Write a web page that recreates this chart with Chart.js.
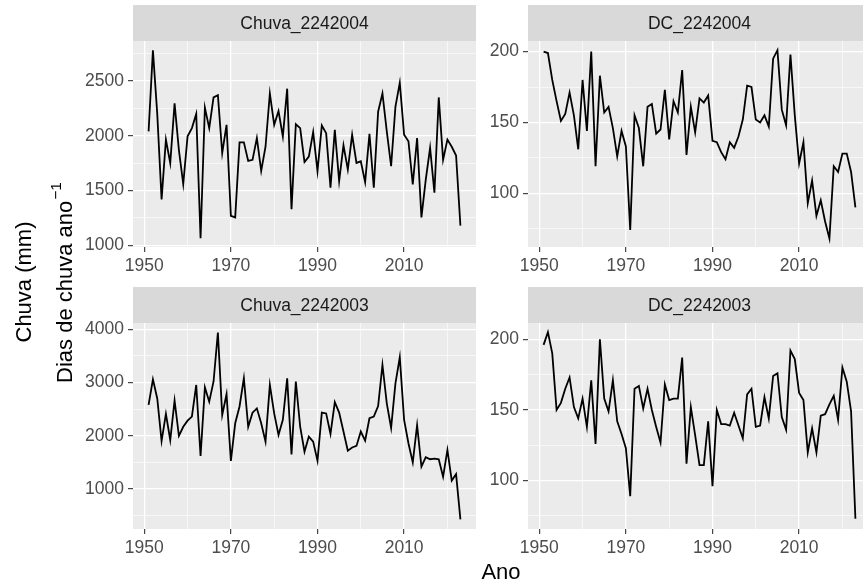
<!DOCTYPE html>
<html>
<head>
<meta charset="utf-8">
<title>Chuva e dias de chuva</title>
<style>
  html, body { margin: 0; padding: 0; background: #fff; overflow: hidden; }
  #wrap { position: relative; width: 863px; height: 588px; overflow: hidden; }
  #wrap canvas { position: absolute; left: 0; top: 0; }
</style>
</head>
<body>
<div id="wrap">
  <canvas id="c1" width="880" height="588"></canvas>
  <canvas id="c2" width="880" height="588"></canvas>
  <canvas id="c3" width="880" height="588"></canvas>
  <canvas id="c4" width="880" height="588"></canvas>
</div>
<script src="https://cdn.jsdelivr.net/npm/chart.js@4.4.0/dist/chart.umd.min.js"></script>
<script>
// anos 1951-2023
const anos = [1951, 1952, 1953, 1954, 1955, 1956, 1957, 1958, 1959, 1960,
  1961, 1962, 1963, 1964, 1965, 1966, 1967, 1968, 1969, 1970,
  1971, 1972, 1973, 1974, 1975, 1976, 1977, 1978, 1979, 1980,
  1981, 1982, 1983, 1984, 1985, 1986, 1987, 1988, 1989, 1990,
  1991, 1992, 1993, 1994, 1995, 1996, 1997, 1998, 1999, 2000,
  2001, 2002, 2003, 2004, 2005, 2006, 2007, 2008, 2009, 2010,
  2011, 2012, 2013, 2014, 2015, 2016, 2017, 2018, 2019, 2020,
  2021, 2022, 2023];

const chuva2242004 = [2040, 2780, 2200, 1420, 1965, 1750, 2296, 1870, 1560, 1995,
  2070, 2200, 1064, 2257, 2070, 2350, 2370, 1843, 2100, 1270,
  1255, 1940, 1940, 1770, 1780, 1980, 1680, 1900, 2386, 2100,
  2226, 1994, 2430, 1330, 2105, 2070, 1760, 1810, 2033, 1677,
  2094, 2024, 1526, 2054, 1586, 1912, 1692, 2009, 1752, 1767,
  1577, 2018, 1526, 2220, 2386, 2040, 1722, 2266, 2483, 2009,
  1950, 1556, 1980, 1255, 1600, 1890, 1480, 2350, 1780, 1965,
  1900, 1820, 1180];

const dc2242004 = [200, 199, 180, 165, 151, 156, 171, 155, 131, 180,
  144, 200, 119, 183, 157, 161, 146, 126, 144, 133,
  74, 155, 146, 119, 161, 163, 142, 145, 173, 138,
  165, 157, 187, 127, 161, 143, 167, 164, 169, 137,
  136, 129, 124, 136, 132, 140, 152, 176, 175, 152,
  150, 155, 147, 195, 201, 159, 148, 198, 155, 121,
  136, 93, 109, 84, 95, 80, 68, 119, 115, 128,
  128, 115, 90];

const chuva2242003 = [2580, 3060, 2700, 1900, 2410, 1920, 2660, 2000, 2170, 2285,
  2360, 2955, 1620, 2910, 2640, 3020, 3940, 2390, 2780, 1530,
  2235, 2550, 3080, 2170, 2435, 2515, 2235, 1890, 2955, 2420,
  2015, 2300, 3080, 1650, 3020, 2170, 1700, 1985, 1890, 1530,
  2435, 2420, 2035, 2630, 2435, 2080, 1720, 1780, 1810, 2080,
  1910, 2330, 2360, 2560, 3330, 2610, 2150, 2985, 3475, 2300,
  1860, 1500, 2200, 1420, 1600, 1560, 1570, 1560, 1230, 1735,
  1160, 1280, 430];

const dc2242003 = [196, 205, 190, 150, 155, 165, 173, 152, 144, 158,
  138, 171, 126, 200, 158, 149, 171, 142, 133, 123,
  89, 165, 167, 151, 165, 150, 138, 127, 168, 157,
  158, 158, 187, 112, 152, 132, 111, 111, 142, 96,
  150, 140, 140, 139, 148, 139, 130, 161, 165, 138,
  139, 159, 144, 174, 176, 145, 136, 192, 186, 162,
  157, 120, 137, 120, 146, 147, 154, 160, 143, 180,
  170, 149, 73];

// ticks
const anoMajor = [1950, 1970, 1990, 2010];
const anoMinor = [1960, 1980, 2000, 2020];
const chuvaAMajor = [1000, 1500, 2000, 2500];
const chuvaAMinor = [1250, 1750, 2250, 2750];
const chuvaBMajor = [1000, 2000, 3000, 4000];
const chuvaBMinor = [500, 1500, 2500, 3500];
const dcMajor = [100, 150, 200];
const dcMinor = [75, 125, 175];

const FONT = '"Liberation Sans", Arial, sans-serif';
const W = 880, H = 588, YW = 50, XH = 30;

const facetPlugin = {
  id: 'facet',
  beforeDraw(chart) {
    const a = chart.chartArea, ctx = chart.ctx;
    ctx.save();
    ctx.fillStyle = '#EBEBEB';
    ctx.fillRect(a.left, a.top, a.right - a.left, a.bottom - a.top);
    ctx.fillStyle = '#D9D9D9';
    ctx.fillRect(a.left, a.top - 36, a.right - a.left, 36);
    ctx.fillStyle = '#1A1A1A';
    ctx.font = '17.5px ' + FONT;
    ctx.textAlign = 'center';
    ctx.textBaseline = 'middle';
    ctx.fillText(chart.options.plugins.facet.text, (a.left + a.right) / 2, a.top - 17);
    ctx.restore();
  },
  afterDraw(chart) {
    if (!chart.options.plugins.facet.titles) return;
    const ctx = chart.ctx;
    ctx.save();
    ctx.fillStyle = '#000';
    ctx.font = '22px ' + FONT;
    ctx.textAlign = 'center';
    ctx.textBaseline = 'middle';
    ctx.fillText('Ano', 501, 573);
    // Chuva (mm)
    ctx.save();
    ctx.translate(25, 282);
    ctx.rotate(-Math.PI / 2);
    ctx.fillText('Chuva (mm)', 0, 0);
    ctx.restore();
    // Dias de chuva ano^-1
    ctx.save();
    ctx.translate(66, 283);
    ctx.rotate(-Math.PI / 2);
    const main = 'Dias de chuva ano';
    const sup = '\u22121';
    const wm = ctx.measureText(main).width;
    ctx.font = '15.5px ' + FONT;
    const ws = ctx.measureText(sup).width;
    const x0 = -(wm + ws) / 2;
    ctx.textAlign = 'left';
    ctx.fillText(sup, x0 + wm + 1, -9);
    ctx.font = '22px ' + FONT;
    ctx.fillText(main, x0, 0);
    ctx.restore();
    ctx.restore();
  }
};

function makePanel(id, label, values, yMin, yMax, yMajor, yMinor, box, titles) {
  const pts = anos.map((a, i) => ({ x: a, y: values[i] }));
  const gridOpts = (major) => ({
    color: '#FFFFFF',
    lineWidth: (c) => major.includes(c.tick.value) ? 1.3 : 0.6,
    drawTicks: true,
    tickLength: 5,
    tickWidth: 1.1,
    tickColor: (c) => major.includes(c.tick.value) ? '#333333' : 'rgba(0,0,0,0)'
  });
  const tickFont = { family: FONT, size: 17.5 };
  return new Chart(document.getElementById(id), {
    type: 'line',
    data: {
      datasets: [{
        label: label,
        data: pts,
        borderColor: '#000000',
        borderWidth: 1.8,
        pointRadius: 0,
        tension: 0,
        fill: false
      }]
    },
    options: {
      responsive: false,
      animation: false,
      events: [],
      layout: {
        padding: {
          left: box.left - YW,
          top: box.top,
          right: W - box.right,
          bottom: H - box.bottom - XH
        }
      },
      plugins: {
        legend: { display: false },
        tooltip: { enabled: false },
        facet: { text: label, titles: titles }
      },
      scales: {
        x: {
          type: 'linear',
          min: 1947.4,
          max: 2026.6,
          afterBuildTicks: (s) => { s.ticks = anoMajor.concat(anoMinor).map(v => ({ value: v })); },
          afterFit: (s) => { s.height = XH; },
          border: { display: false },
          grid: gridOpts(anoMajor),
          ticks: {
            autoSkip: false,
            maxRotation: 0,
            padding: 4,
            color: '#4D4D4D',
            font: tickFont,
            callback: (v) => anoMajor.includes(v) ? String(v) : ''
          }
        },
        y: {
          type: 'linear',
          min: yMin,
          max: yMax,
          afterBuildTicks: (s) => { s.ticks = yMajor.concat(yMinor).map(v => ({ value: v })); },
          afterFit: (s) => { s.width = YW; },
          border: { display: false },
          grid: gridOpts(yMajor),
          ticks: {
            autoSkip: false,
            padding: 4,
            color: '#4D4D4D',
            font: tickFont,
            callback: (v) => yMajor.includes(v) ? String(v) : ''
          }
        }
      }
    },
    plugins: [facetPlugin]
  });
}

makePanel('c1', 'Chuva_2242004', chuva2242004, 985, 2865, chuvaAMajor, chuvaAMinor,
  { left: 133, top: 41, right: 476, bottom: 247 }, true);
makePanel('c2', 'DC_2242004', dc2242004, 62, 207.5, dcMajor, dcMinor,
  { left: 528, top: 41, right: 871, bottom: 247 }, false);
makePanel('c3', 'Chuva_2242003', chuva2242003, 250, 4118, chuvaBMajor, chuvaBMinor,
  { left: 133, top: 323, right: 476, bottom: 529 }, false);
makePanel('c4', 'DC_2242003', dc2242003, 65.8, 211.5, dcMajor, dcMinor,
  { left: 528, top: 323, right: 871, bottom: 529 }, false);
</script>
</body>
</html>
